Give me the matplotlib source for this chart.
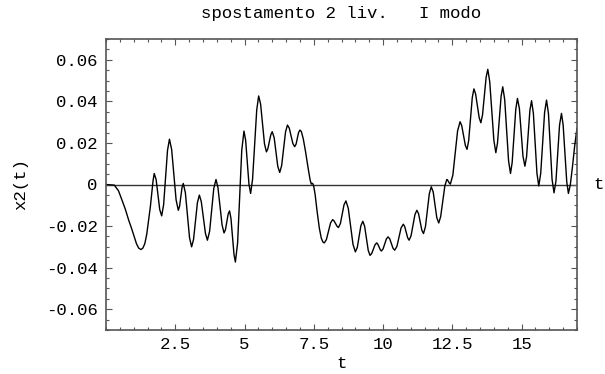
import numpy as np
import matplotlib
matplotlib.use('Agg')
import matplotlib.pyplot as plt
from matplotlib.ticker import MultipleLocator

plt.rcParams['font.family'] = ['Liberation Mono', 'DejaVu Sans Mono']

# displacement x2(t) (extrema plus flank points)
t = [0.00, 0.30, 0.45, 0.58, 0.70, 0.82, 0.92, 1.00, 1.10, 1.18, 1.26, 1.33,
     1.40, 1.47, 1.53, 1.60, 1.66, 1.70, 1.74,
     1.81, 1.875, 1.94, 2.01, 2.08, 2.15, 2.22, 2.29, 2.37, 2.45, 2.53, 2.61,
     2.655, 2.70, 2.745, 2.79, 2.865, 2.94, 3.015, 3.09, 3.16, 3.23, 3.30, 3.37,
     3.44, 3.515, 3.59, 3.66, 3.74, 3.815, 3.89, 3.97, 4.04, 4.115, 4.19, 4.26,
     4.31, 4.36, 4.41, 4.46, 4.51, 4.565, 4.62, 4.67, 4.75, 4.825, 4.90, 4.98,
     5.04, 5.10, 5.16, 5.22, 5.29, 5.365, 5.44, 5.51, 5.58, 5.65, 5.72, 5.79,
     5.84, 5.895, 5.95, 6.00, 6.07, 6.135, 6.20, 6.27, 6.34, 6.41, 6.48, 6.55,
     6.615, 6.68, 6.745, 6.81, 6.86, 6.905, 6.95, 7.00,
     7.05, 7.12, 7.20, 7.30, 7.37, 7.41, 7.44, 7.47, 7.50, 7.55, 7.62, 7.70,
     7.77, 7.83, 7.88,
     7.955, 8.03, 8.105, 8.18, 8.23, 8.285, 8.34, 8.39, 8.46, 8.525, 8.59, 8.66,
     8.745, 8.83, 8.915, 9.00, 9.07, 9.135, 9.20, 9.27, 9.335, 9.40, 9.465, 9.53,
     9.59, 9.65, 9.71, 9.77, 9.81, 9.855, 9.90, 9.94, 10.00, 10.06, 10.12, 10.18,
     10.24, 10.30, 10.36, 10.42, 10.50, 10.575, 10.65, 10.73, 10.78, 10.835,
     10.89, 10.94, 11.01, 11.08, 11.15, 11.22, 11.28, 11.34, 11.40, 11.46,
     11.53, 11.60, 11.67, 11.74, 11.81, 11.875, 11.94, 12.01, 12.08, 12.155,
     12.23, 12.30, 12.33, 12.365, 12.40, 12.43, 12.52, 12.605, 12.69, 12.78,
     12.84, 12.905, 12.97, 13.03, 13.09, 13.155, 13.22, 13.28, 13.34, 13.405,
     13.47, 13.53, 13.59, 13.655, 13.72, 13.78, 13.85, 13.925, 14.00, 14.07,
     14.13, 14.195, 14.26, 14.32, 14.39, 14.46, 14.53, 14.60, 14.66, 14.725,
     14.79, 14.85, 14.92, 14.985, 15.05, 15.12, 15.18, 15.24, 15.30, 15.36,
     15.425, 15.49, 15.555, 15.62, 15.69, 15.76, 15.83, 15.90, 15.97, 16.035,
     16.10, 16.17, 16.24, 16.305, 16.37, 16.44, 16.50, 16.565, 16.63, 16.69,
     16.76, 16.84, 16.92, 17.00]
x2 = [0.0, -0.0003, -0.0030, -0.0076, -0.0120, -0.0172, -0.0210, -0.0244,
      -0.0285, -0.0306, -0.0313, -0.0306, -0.0285, -0.0240, -0.0180, -0.0108,
      -0.0030, 0.0020, 0.0053,
      0.0023, -0.0049, -0.0121, -0.0151, -0.0097, 0.0034, 0.0164, 0.0218,
      0.0168, 0.0047, -0.0074, -0.0124,
      -0.0105, -0.0060, -0.0014, 0.0005, -0.0040, -0.0148, -0.0256, -0.0300,
      -0.0264, -0.0176, -0.0087, -0.0051,
      -0.0083, -0.0160, -0.0236, -0.0268, -0.0225, -0.0122, -0.0019, 0.0024,
      -0.0014, -0.0105, -0.0195, -0.0233,
      -0.0218, -0.0180, -0.0142, -0.0127, -0.0163, -0.0250, -0.0337, -0.0373,
      -0.0281, -0.0058, 0.0165, 0.0257,
      0.0213, 0.0107, 0.0001, -0.0043, 0.0025, 0.0192, 0.0358, 0.0426,
      0.0387, 0.0292, 0.0196, 0.0157,
      0.0171, 0.0206, 0.0240, 0.0254, 0.0225, 0.0156, 0.0087, 0.0058,
      0.0091, 0.0172, 0.0253, 0.0286,
      0.0271, 0.0234, 0.0197, 0.0182, 0.0194, 0.0222, 0.0250, 0.0262,
      0.0255, 0.0220, 0.0160, 0.0075, 0.0020, 0.0002, 0.0006, 0.0003,
      -0.0010, -0.0050, -0.0130, -0.0210, -0.0258, -0.0277, -0.0281,
      -0.0265, -0.0225, -0.0185, -0.0169, -0.0175, -0.0188, -0.0201, -0.0207,
      -0.0188, -0.0143, -0.0098, -0.0079,
      -0.0115, -0.0202, -0.0288, -0.0324, -0.0303, -0.0251, -0.0198, -0.0177,
      -0.0201, -0.0259, -0.0317, -0.0341,
      -0.0332, -0.0311, -0.0290, -0.0281, -0.0287, -0.0301, -0.0314, -0.0320,
      -0.0310, -0.0286, -0.0262, -0.0252,
      -0.0261, -0.0284, -0.0307, -0.0316, -0.0298, -0.0254, -0.0209, -0.0191,
      -0.0202, -0.0230, -0.0257, -0.0268, -0.0247, -0.0196, -0.0145, -0.0124,
      -0.0140, -0.0180, -0.0220, -0.0236,
      -0.0203, -0.0124, -0.0044, -0.0011, -0.0036, -0.0098, -0.0160, -0.0185,
      -0.0154, -0.0080, -0.0007, 0.0024, 0.0021, 0.0013, 0.0005, 0.0002,
      0.0046, 0.0152, 0.0258, 0.0302,
      0.0283, 0.0236, 0.0188, 0.0169, 0.0211, 0.0315, 0.0418, 0.0460,
      0.0436, 0.0379, 0.0321, 0.0297, 0.0335, 0.0426, 0.0516, 0.0554,
      0.0495, 0.0354, 0.0212, 0.0153,
      0.0199, 0.0312, 0.0424, 0.0470, 0.0409, 0.0262, 0.0114, 0.0053,
      0.0106, 0.0234, 0.0361, 0.0414, 0.0366, 0.0251, 0.0136, 0.0088,
      0.0134, 0.0246, 0.0357, 0.0403,
      0.0343, 0.0198, 0.0053, -0.0007, 0.0053, 0.0200, 0.0346, 0.0406,
      0.0341, 0.0183, 0.0025, -0.0040,
      0.0016, 0.0151, 0.0286, 0.0342, 0.0286, 0.0150, 0.0013, -0.0043,
      0.0000, 0.0090, 0.0190, 0.0270]

xticks = [2.5, 5, 7.5, 10, 12.5, 15]
xticklabels = ['2.5', '5', '7.5', '10', '12.5', '15']
yticks = [-0.06, -0.04, -0.02, 0, 0.02, 0.04, 0.06]
yticklabels = ['-0.06', '-0.04', '-0.02', '0', '0.02', '0.04', '0.06']

fig = plt.figure(figsize=(6.05, 3.74), dpi=100)
ax = fig.add_axes([106/605, 1 - 330/374, 471/605, 291/374])

ax.axhline(0, color='#333333', lw=1.0, zorder=1)
ax.plot(t, x2, color='black', lw=1.0, zorder=2)

ax.set_xlim(0, 17)
ax.set_ylim(-0.07, 0.07)
ax.set_xticks(xticks)
ax.set_xticklabels(xticklabels)
ax.set_yticks(yticks)
ax.set_yticklabels(yticklabels)
ax.xaxis.set_minor_locator(MultipleLocator(0.5))
ax.yaxis.set_minor_locator(MultipleLocator(0.005))
ax.tick_params(which='both', direction='in', top=True, right=True,
               color='#555555', labelsize=12.5)
ax.tick_params(axis='y', pad=6)
ax.tick_params(axis='x', pad=5)
ax.tick_params(which='major', length=4, width=0.8)
ax.tick_params(which='minor', length=2, width=0.8)
for s in ax.spines.values():
    s.set_color('#555555')
    s.set_linewidth(1.2)

ax.set_xlabel('t', fontsize=12.5, labelpad=3)
ax.set_ylabel('x2(t)', fontsize=12.5, labelpad=13)
ax.set_title('spostamento 2 liv.   I modo', fontsize=12.5, pad=15)
ax.text(1.035, 0.5, 't', transform=ax.transAxes, fontsize=12.5,
        ha='left', va='center')

fig.savefig('out.png', dpi=100)
